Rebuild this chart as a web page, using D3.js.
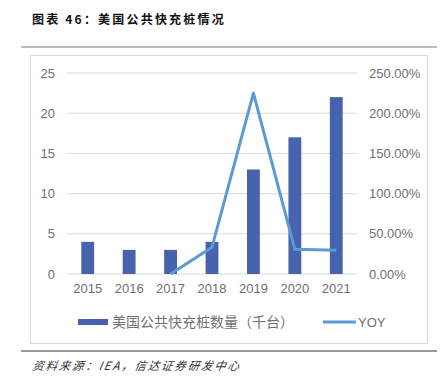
<!DOCTYPE html>
<html>
<head>
<meta charset="utf-8">
<script src="https://cdn.jsdelivr.net/npm/d3@7"></script>
<style>
  body { margin: 0; background: #fff; }
  svg { display: block; }
</style>
</head>
<body>
<div id="graf"></div>
<script>
// 美国公共快充桩情况

years = ['2015', '2016', '2017', '2018', '2019', '2020', '2021']
cantidad = [4, 3, 3, 4, 13, 17, 22]          // 千台
yoy = [null, null, 0, 0.3333, 2.25, 0.3077, 0.2941]
ticksIzq = [0, 5, 10, 15, 20, 25]
ticksDer = [0, 0.5, 1, 1.5, 2, 2.5]

ancho_total = 442
alto_total = 388

svg = d3.select('#graf').append('svg')
        .attr('width', ancho_total)
        .attr('height', alto_total)

// titulo y lineas
svg.append('text')
   .attr('x', 32).attr('y', 24)
   .attr('font-family', 'Noto Sans CJK SC')
   .attr('font-weight', 'bold')
   .attr('font-size', 12)
   .attr('letter-spacing', 2.2)
   .attr('fill', '#111')
   .text('图表 46：美国公共快充桩情况')
svg.append('line')
   .attr('x1', 21).attr('x2', 437).attr('y1', 47).attr('y2', 47)
   .attr('stroke', '#777').attr('stroke-width', 1.2)
svg.append('line')
   .attr('x1', 21).attr('x2', 437).attr('y1', 351).attr('y2', 351)
   .attr('stroke', '#333').attr('stroke-width', 1.2)
svg.append('text')
   .attr('x', 32).attr('y', 370)
   .attr('font-family', 'Noto Sans CJK SC')
   .attr('font-style', 'italic')
   .attr('font-size', 11.5)
   .attr('letter-spacing', 1.8)
   .attr('fill', '#333')
   .attr('transform', 'skewX(-10) translate(65,0)')
   .text('资料来源：IEA，信达证券研发中心')

// marco del grafico
svg.append('rect')
   .attr('x', 30.5).attr('y', 55.5)
   .attr('width', 397).attr('height', 288)
   .attr('fill', 'none').attr('stroke', '#d9d9d9')

margins = { top: 73, left: 67, right: 85, bottom: 114 }
ancho = ancho_total - margins.left - margins.right
alto = alto_total - margins.top - margins.bottom

g = svg.append('g')
       .attr('transform', `translate(${margins.left}, ${margins.top})`)

// Escaladores
x = d3.scaleBand().domain(years).range([0, ancho]).paddingInner(0.69).paddingOuter(0.345)
y = d3.scaleLinear().domain([0, 25]).range([alto, 0])
y2 = d3.scaleLinear().domain([0, 2.5]).range([alto, 0])

// grid
g.selectAll('.grid').data(ticksIzq).join('line')
 .attr('x1', 0).attr('x2', ancho)
 .attr('y1', d => y(d)).attr('y2', d => y(d))
 .attr('stroke', '#d9d9d9').attr('stroke-width', 1)

fuenteNum = 'Liberation Sans, Arial, sans-serif'
gris = '#707070'

// Ejes
yAxis = g.append('g').call(d3.axisLeft(y).tickValues(ticksIzq).tickSize(0).tickPadding(12))
yAxis2 = g.append('g').attr('transform', `translate(${ancho}, 0)`)
          .call(d3.axisRight(y2).tickValues(ticksDer).tickSize(0).tickPadding(12)
                  .tickFormat(d => (d * 100).toFixed(2) + '%'))
xAxis = g.append('g').attr('transform', `translate(0, ${alto})`)
         .call(d3.axisBottom(x).tickSize(0).tickPadding(10))
;[yAxis, yAxis2, xAxis].forEach(a => {
  a.select('.domain').remove()
  a.selectAll('text').attr('font-family', fuenteNum).attr('font-size', 13).attr('fill', gris)
})

// barras
g.selectAll('.barra').data(cantidad).join('rect')
 .attr('x', (d, i) => x(years[i]))
 .attr('width', x.bandwidth())
 .attr('y', d => y(d))
 .attr('height', d => alto - y(d))
 .attr('fill', '#4763ad')

// linea YOY
lineaGen = d3.line()
             .defined(d => d[1] !== null)
             .x(d => x(d[0]) + x.bandwidth() / 2)
             .y(d => y2(d[1]))
g.append('path')
 .datum(years.map((a, i) => [a, yoy[i]]))
 .attr('fill', 'none')
 .attr('stroke', '#5b9bd5')
 .attr('stroke-width', 3)
 .attr('stroke-linejoin', 'round')
 .attr('d', lineaGen)

// leyenda
ley = svg.append('g').attr('transform', 'translate(0, 322)')
ley.append('rect').attr('x', 78).attr('y', -3).attr('width', 30).attr('height', 6).attr('fill', '#4763ad')
ley.append('text').attr('x', 112).attr('y', 5)
   .attr('font-family', 'Noto Sans CJK SC').attr('font-size', 14).attr('fill', gris)
   .text('美国公共快充桩数量（千台）')
ley.append('line').attr('x1', 323).attr('x2', 356).attr('y1', 0).attr('y2', 0)
   .attr('stroke', '#5b9bd5').attr('stroke-width', 3)
ley.append('text').attr('x', 358).attr('y', 5)
   .attr('font-family', fuenteNum).attr('font-size', 13).attr('fill', gris)
   .text('YOY')
</script>
</body>
</html>
